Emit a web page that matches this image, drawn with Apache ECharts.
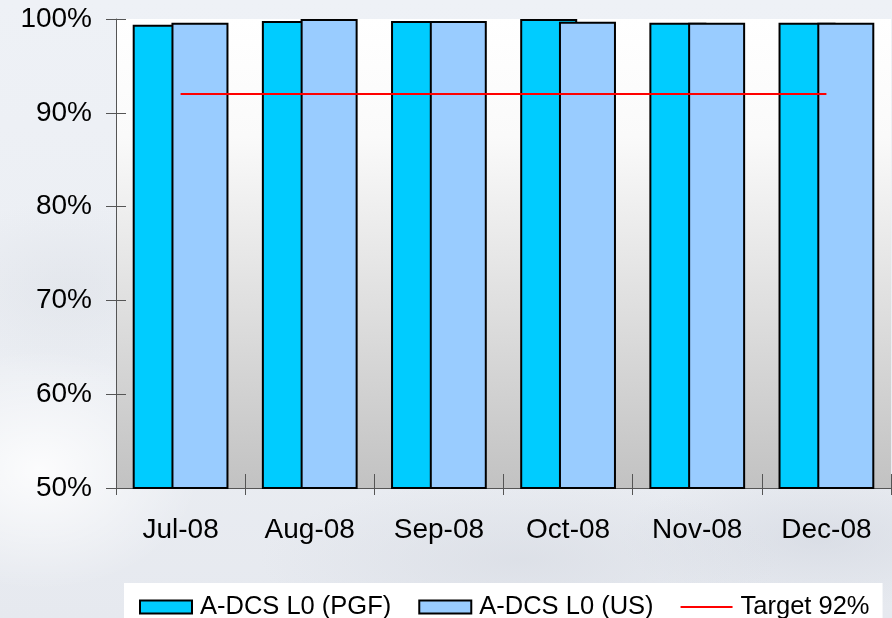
<!DOCTYPE html>
<html>
<head>
<meta charset="utf-8">
<script src="https://cdn.jsdelivr.net/npm/echarts@6/dist/echarts.min.js"></script>
<style>
  html, body { margin: 0; padding: 0; }
  #chart {
    width: 892px; height: 618px;
    background:
      radial-gradient(ellipse 160px 120px at 40px 470px, rgba(255,255,255,0.85), rgba(255,255,255,0) 100%),
      radial-gradient(ellipse 140px 90px at 70px 290px, rgba(214,218,225,0.4), rgba(214,218,225,0) 100%),
      radial-gradient(ellipse 260px 80px at 520px 560px, rgba(214,218,226,0.6), rgba(214,218,226,0) 100%),
      radial-gradient(ellipse 200px 70px at 820px 540px, rgba(205,210,220,0.5), rgba(205,210,220,0) 100%),
      linear-gradient(180deg, #eef1f6 0%, #ebeef3 60%, #e6e9ef 100%);
  }
</style>
</head>
<body>
<div id="chart"></div>
<script>
// Monthly availability of A-DCS L0, second half of 2008
const months = ['Jul-08', 'Aug-08', 'Sep-08', 'Oct-08', 'Nov-08', 'Dec-08'];
const pgfValues = [99.4, 99.8, 99.8, 100.0, 99.6, 99.6];
const usValues = [99.6, 100.0, 99.8, 99.7, 99.6, 99.6];
const targetValues = [92, 92, 92, 92, 92, 92];
const yTicks = { min: 50, max: 100, interval: 10 };

const labelFont = { fontFamily: 'Liberation Sans, Arial, sans-serif', color: '#000' };

const chart = echarts.init(document.getElementById('chart'), null, { renderer: 'canvas' });

chart.setOption({
  animation: false,
  backgroundColor: 'transparent',
  grid: {
    left: 116, right: 1, top: 19, bottom: 130,
    show: true,
    borderWidth: 0,
    backgroundColor: {
      type: 'linear', x: 0, y: 0, x2: 0, y2: 1,
      colorStops: [
        { offset: 0, color: '#ffffff' },
        { offset: 0.25, color: '#fafafa' },
        { offset: 1, color: '#c2c2c2' }
      ]
    }
  },
  legend: {
    left: 124, top: 583,
    padding: [11, 13, 20, 15],
    backgroundColor: '#ffffff',
    itemWidth: 52, itemHeight: 13,
    itemGap: 27,
    textStyle: { ...labelFont, fontSize: 25.5, padding: [0, 0, 0, 3] },
    data: [
      { name: 'A-DCS L0 (PGF)', icon: 'rect' },
      { name: 'A-DCS L0 (US)', icon: 'rect' },
      { name: 'Target 92%', icon: 'path://M0 0 L52 0 L52 2 L0 2 Z' }
    ]
  },
  xAxis: [
    {
      type: 'category', data: months,
      axisLine: { show: true, lineStyle: { color: '#555', width: 1 } },
      axisTick: { show: true, inside: false, length: 7, lineStyle: { color: '#555' } },
      axisLabel: { ...labelFont, fontSize: 28, margin: 28 },
      splitLine: { show: false }
    },
    {
      type: 'category', data: months, position: 'bottom',
      axisLine: { show: false },
      axisTick: { show: true, inside: true, length: 14, lineStyle: { color: '#555' } },
      axisLabel: { show: false },
      splitLine: { show: false }
    }
  ],
  yAxis: [
    {
      type: 'value', min: yTicks.min, max: yTicks.max, interval: yTicks.interval,
      axisLine: { show: true, lineStyle: { color: '#555', width: 1 } },
      axisTick: { show: true, inside: false, length: 10, lineStyle: { color: '#555' } },
      axisLabel: { ...labelFont, fontSize: 28, margin: 24, formatter: '{value}%' },
      splitLine: { show: false }
    },
    {
      type: 'value', min: yTicks.min, max: yTicks.max, interval: yTicks.interval, position: 'left',
      axisLine: { show: false },
      axisTick: { show: true, inside: true, length: 10, lineStyle: { color: '#555' } },
      axisLabel: { show: false },
      splitLine: { show: false }
    }
  ],
  series: [
    {
      name: 'A-DCS L0 (PGF)', type: 'bar', data: pgfValues,
      barWidth: 57, barGap: '-32%',
      itemStyle: { color: '#00ccff', borderColor: '#000', borderWidth: 2 }
    },
    {
      name: 'A-DCS L0 (US)', type: 'bar', data: usValues,
      barWidth: 57, barGap: '-32%',
      itemStyle: { color: '#99ccff', borderColor: '#000', borderWidth: 2 }
    },
    {
      name: 'Target 92%', type: 'line', data: targetValues,
      symbol: 'none', z: 5,
      lineStyle: { color: '#ff0000', width: 2 },
      itemStyle: { color: '#ff0000' }
    }
  ]
});
</script>
</body>
</html>
